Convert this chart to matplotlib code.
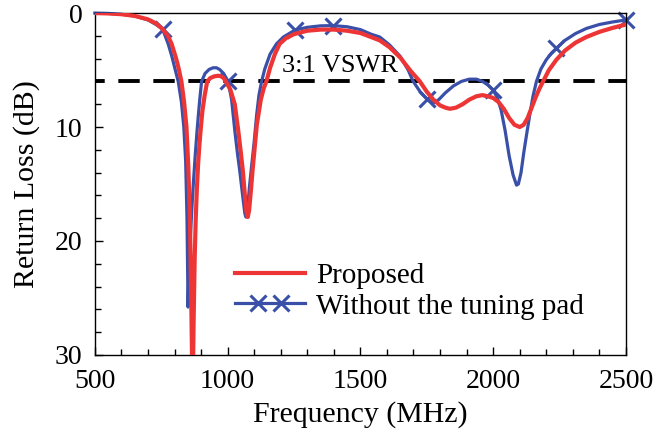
import numpy as np
import matplotlib
matplotlib.use('Agg')
from matplotlib import pyplot as plt
from matplotlib.ticker import MultipleLocator
from matplotlib.legend_handler import HandlerLine2D

plt.rcParams['font.family'] = ['Liberation Serif', 'DejaVu Serif']

# Proposed antenna (red)
freq_p = [500, 550, 600, 650, 700, 730, 755, 775, 789, 805, 815, 826, 836, 845, 852,
          858, 863, 868, 872, 876, 880, 884, 889, 894, 899, 905, 913,
          923, 935, 950, 965, 975, 985, 993, 1010, 1027, 1040, 1050, 1058, 1066, 1072,
          1076, 1081, 1088, 1094, 1100, 1110, 1125, 1136, 1146, 1160, 1178, 1196, 1220,
          1250, 1300, 1350, 1400, 1450, 1500, 1540, 1573, 1610, 1650, 1690, 1724, 1750,
          1775, 1800, 1820, 1837, 1860, 1885, 1910, 1937, 1960, 1980, 2000, 2020, 2040,
          2060, 2080, 2100, 2115, 2130, 2145, 2160, 2175, 2188, 2210, 2238, 2270, 2310,
          2351, 2400, 2450, 2500]
rl_p = [0.0, 0.03, 0.1, 0.25, 0.55, 0.9, 1.4, 2.0, 2.7, 3.9, 4.8, 6.0, 7.8, 10.0, 13.5,
        18.0, 25.0, 34.0, 27.0, 21.5, 18.0, 15.5, 13.2, 11.5, 10.1, 8.6, 7.3,
        6.0, 5.7, 5.55, 5.5, 5.55, 5.7, 6.0, 6.7, 8.0, 10.3, 12.3, 14.0, 16.3, 17.6,
        17.9, 17.3, 15.5, 13.8, 12.3, 9.8, 7.6, 6.6, 6.0, 4.8, 3.6, 2.7, 2.2,
        1.85, 1.55, 1.45, 1.45, 1.55, 1.75, 2.1, 2.4, 3.0, 3.9, 5.1, 6.0, 6.9,
        7.6, 8.1, 8.3, 8.4, 8.3, 8.0, 7.6, 7.3, 7.2, 7.3, 7.45, 7.8, 8.4,
        9.2, 9.8, 10.0, 9.8, 9.2, 8.3, 7.4, 6.6, 6.0, 5.0, 4.1, 3.3, 2.6,
        2.1, 1.65, 1.3, 1.0]

# Without the tuning pad (blue)
freq_w = [500, 550, 600, 650, 700, 730, 755, 776, 790, 803, 814, 826, 835, 842, 847,
          851, 855, 860, 865, 870, 877, 885, 890, 895, 902, 915, 930, 945, 958,
          970, 985, 1002, 1015, 1027, 1037, 1046, 1058, 1065, 1069, 1074, 1082, 1090,
          1100, 1109, 1118, 1128, 1140, 1160, 1184, 1210, 1253, 1300, 1350, 1396, 1450,
          1500, 1540, 1573, 1610, 1650, 1680, 1699, 1725, 1749, 1774, 1795, 1820, 1850,
          1880, 1910, 1937, 1960, 1980, 2000, 2015, 2030, 2045, 2060, 2075, 2088, 2095,
          2105, 2115, 2125, 2138, 2150, 2163, 2180, 2200, 2220, 2238, 2270, 2310, 2351,
          2400, 2450, 2500]
rl_w = [0.0, 0.03, 0.1, 0.25, 0.6, 1.0, 1.4, 2.7, 3.8, 5.0, 6.0, 7.8, 10.0, 13.0, 18.0,
        25.8, 22.0, 19.5, 17.3, 15.3, 12.8, 10.3, 8.9, 7.6, 6.0, 5.3, 4.95, 4.8, 4.8,
        4.95, 5.3, 6.0, 7.6, 10.3, 12.3, 13.9, 16.3, 17.6, 17.9, 17.5, 15.3, 13.5,
        11.3, 9.0, 7.2, 6.0, 4.9, 3.6, 2.7, 2.1, 1.5, 1.25, 1.12, 1.1, 1.2,
        1.45, 1.85, 2.1, 2.8, 3.8, 5.0, 6.0, 6.9, 7.5, 7.9, 7.6, 7.0, 6.4,
        6.0, 5.8, 5.8, 6.0, 6.3, 6.75, 7.4, 8.5, 10.3, 12.5, 14.2, 15.1, 15.0,
        14.0, 12.3, 10.8, 8.9, 7.3, 6.0, 4.9, 4.1, 3.5, 3.1, 2.4, 1.8, 1.35,
        1.0, 0.78, 0.6]
marker_freqs = [755, 1002, 1253, 1396, 1749, 2000, 2238, 2500]
marker_idx = [freq_w.index(f) for f in marker_freqs]

vswr_level = 6.0


# legend handle: full-length line with two x marks in the middle
class TwoMarkHandler(HandlerLine2D):
    def create_artists(self, legend, orig_handle, xdescent, ydescent,
                       width, height, fontsize, trans):
        arts = super().create_artists(legend, orig_handle, xdescent, ydescent,
                                      width, height, fontsize, trans)
        arts[0].set_markevery([1, 2])
        return arts


fig = plt.figure(figsize=(6.68, 4.36), dpi=100)
ax = fig.add_axes([0.142, 0.186, 0.795, 0.784])

ax.plot(freq_p, rl_p, color='#EE3535', lw=3.0, label='Proposed', zorder=3,
        solid_joinstyle='round')
blue, = ax.plot(freq_w, rl_w, color='#3A50A8', lw=2.3, marker='x', markersize=12,
                markeredgewidth=2.2, markevery=marker_idx, label='Without the tuning pad',
                zorder=2, clip_on=False, solid_joinstyle='round')
ax.axhline(vswr_level, color='black', lw=2.8, ls=(3, (5.5, 3.5)), zorder=1)
ax.text(1205, 5.65, '3:1 VSWR', fontsize=19, ha='left', va='bottom')

ax.set_xlim(500, 2500)
ax.set_ylim(30, 0)
ax.xaxis.set_major_locator(MultipleLocator(500))
ax.xaxis.set_minor_locator(MultipleLocator(100))
ax.yaxis.set_major_locator(MultipleLocator(10))
ax.yaxis.set_minor_locator(MultipleLocator(2))
ax.tick_params(which='both', direction='in', top=False, right=False, labelsize=20, width=1)
ax.tick_params(which='major', length=6)
ax.tick_params(which='minor', length=4)
ax.tick_params(axis='x', pad=10.5)
ax.tick_params(axis='y', pad=9)
for s in ax.spines.values():
    s.set_linewidth(1.0)

ax.set_xlabel('Frequency (MHz)', fontsize=21.5, labelpad=5)
ax.yaxis.set_label_coords(-0.104, 0.5)
ax.set_ylabel('Return Loss (dB)', fontsize=21.5)

leg = ax.legend(loc='lower left', bbox_to_anchor=(0.258, 0.095), frameon=False,
                fontsize=21, handlelength=2.4, handletextpad=0.38,
                borderaxespad=0, borderpad=0.1, labelspacing=0.15,
                handler_map={blue: TwoMarkHandler(marker_pad=0, numpoints=4)})

fig.savefig('out.png', dpi=100)
